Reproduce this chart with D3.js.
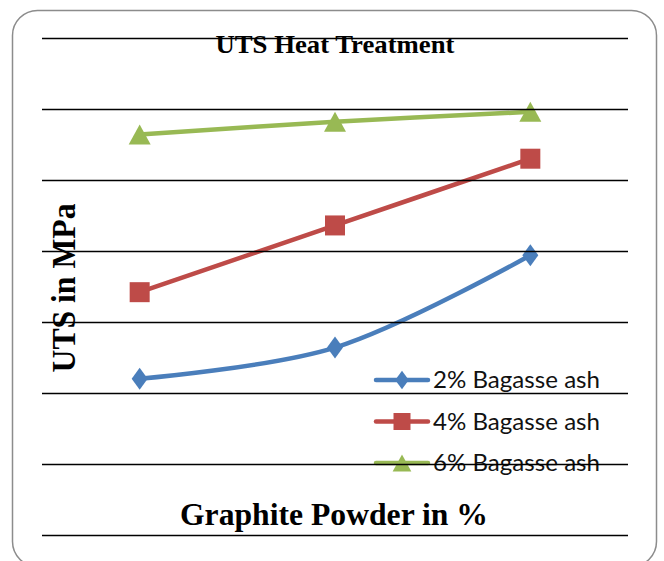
<!DOCTYPE html>
<html>
<head>
<meta charset="utf-8">
<script src="https://cdn.jsdelivr.net/npm/d3@7"></script>
<style>
  body { margin: 0; background: #fff; }
</style>
</head>
<body>
<div id="chart"></div>
<script>
// graphite powder categories (no tick labels shown in the chart)
const categories = ["2", "4", "6"];
const seriesNames = ["2% Bagasse ash", "4% Bagasse ash", "6% Bagasse ash"];
const ash2 = [110, 132, 197];
const ash4 = [171, 218, 265];
const ash6 = [282, 291, 298];
const yTicks = [0, 50, 100, 150, 200, 250, 300, 350];

const width = 664, height = 561;
const colors = ["#4a7ebb", "#be4b48", "#98b954"];
const series = [ash2, ash4, ash6];
const serif = "'Liberation Serif', 'Times New Roman', serif";

// Excel-like markers, k scales them down for the legend
function marker(s, k) {
    if (s === 0) return `M0,${-11 * k}L${8 * k},0L0,${11 * k}L${-8 * k},0Z`;
    if (s === 1) { const h = 10 * k; return `M${-h},${-h}H${h}V${h}H${-h}Z`; }
    return `M0,${-10 * k}L${11 * k},${10 * k}L${-11 * k},${10 * k}Z`;
}

const svg = d3.select("#chart").append("svg")
    .attr("width", width)
    .attr("height", height);

// outer frame (bottom runs off the page)
svg.append("rect")
    .attr("x", 12.5).attr("y", 10.5)
    .attr("width", 644).attr("height", 556)
    .attr("rx", 25).attr("ry", 25)
    .attr("fill", "#fff")
    .attr("stroke", "#8c8c8c")
    .attr("stroke-width", 1.5);

const x = d3.scaleBand()
    .domain(categories)
    .range([42, 628]);

const y = d3.scaleLinear()
    .domain([0, 350])
    .range([535, 38]);

const cx = d => x(d) + x.bandwidth() / 2;

const line = d3.line()
    .x((d, i) => cx(categories[i]))
    .y(d => y(d))
    .curve(d3.curveCatmullRom.alpha(0.5));

series.forEach((vals, s) => {
    svg.append("path")
        .datum(vals)
        .attr("d", line)
        .attr("fill", "none")
        .attr("stroke", colors[s])
        .attr("stroke-width", 4.5)
        .attr("stroke-linejoin", "round");

    svg.append("g")
        .selectAll("path")
        .data(vals)
        .join("path")
        .attr("transform", (d, i) => `translate(${cx(categories[i])},${y(d)})`)
        .attr("d", marker(s, 1))
        .attr("fill", colors[s]);
});

// legend
const legend = svg.append("g");
seriesNames.forEach((name, i) => {
    const ly = 380 + i * 41.5;
    legend.append("line")
        .attr("x1", 376).attr("x2", 428)
        .attr("y1", ly).attr("y2", ly)
        .attr("stroke", colors[i])
        .attr("stroke-width", 4.5)
        .attr("stroke-linecap", "round");
    legend.append("path")
        .attr("transform", `translate(402,${ly})`)
        .attr("d", marker(i, 0.85))
        .attr("fill", colors[i]);
    legend.append("text")
        .attr("x", 433).attr("y", ly + 8)
        .attr("font-family", "Lato, 'Open Sans', sans-serif")
        .attr("font-size", 24)
        .attr("textLength", 167)
        .attr("lengthAdjust", "spacingAndGlyphs")
        .attr("fill", "#111")
        .text(name);
});

// gridlines on top, they cross title and legend in the original
svg.append("g")
    .selectAll("line")
    .data(yTicks)
    .join("line")
    .attr("x1", 42).attr("x2", 628)
    .attr("y1", d => Math.round(y(d)) + 0.5)
    .attr("y2", d => Math.round(y(d)) + 0.5)
    .attr("stroke", "#000")
    .attr("stroke-width", 1.6);

// titles
svg.append("text")
    .attr("x", 335).attr("y", 53)
    .attr("text-anchor", "middle")
    .attr("font-family", serif)
    .attr("font-weight", "bold")
    .attr("font-size", 26)
    .attr("textLength", 239)
    .attr("lengthAdjust", "spacingAndGlyphs")
    .text("UTS Heat Treatment");

svg.append("text")
    .attr("transform", "translate(75,288) rotate(-90)")
    .attr("text-anchor", "middle")
    .attr("font-family", serif)
    .attr("font-weight", "bold")
    .attr("font-size", 33)
    .attr("textLength", 169)
    .attr("lengthAdjust", "spacingAndGlyphs")
    .text("UTS in MPa");

svg.append("text")
    .attr("x", 334).attr("y", 525)
    .attr("text-anchor", "middle")
    .attr("font-family", serif)
    .attr("font-weight", "bold")
    .attr("font-size", 32)
    .attr("textLength", 308)
    .attr("lengthAdjust", "spacingAndGlyphs")
    .text("Graphite Powder in %");
</script>
</body>
</html>
